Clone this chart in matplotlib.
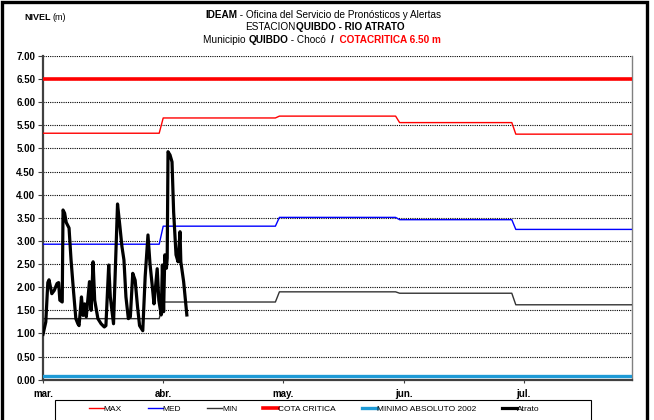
import matplotlib
matplotlib.use('Agg')
import matplotlib.pyplot as plt
from matplotlib.patches import Rectangle
from matplotlib.lines import Line2D
from matplotlib import font_manager

# ---------------- data ----------------
month_labels = ['mar.', 'abr.', 'may.', 'jun.', 'jul.']
tick_days = [0, 30, 60, 90, 120]
month_start = [0, 30, 59, 89, 118]
axis_end = 147

max_vals = [5.33, 5.66, 5.70, 5.56, 5.31]
med_vals = [2.93, 3.32, 3.51, 3.46, 3.25]
min_vals = [1.32, 1.68, 1.90, 1.87, 1.62]
cota_critica = 6.50
minimo_2002 = 0.08

atrato_day = [0.0, 0.7, 1.2, 1.5, 2.2, 2.8, 3.5, 3.9, 4.2, 4.8, 5.0, 5.4, 5.8, 6.5,
              7.0, 7.6, 8.2, 8.7, 9.0, 9.6, 10.0, 10.4, 10.8, 11.6, 12.0, 12.5,
              12.9, 13.7, 14.5, 15.3, 15.7, 16.4, 16.8, 17.6, 18.6, 19.2, 19.7,
              20.2, 20.7, 21.3, 21.8, 22.4, 23.0, 23.6, 24.1, 24.9, 25.5, 26.2,
              26.7, 27.3, 27.7, 28.5, 28.9, 29.5, 29.8, 30.1, 30.4, 30.8, 31.0,
              31.2, 31.7, 32.2, 32.6, 33.2, 33.7, 34.2, 34.4, 35.1, 35.9]
atrato_level = [0.98, 1.25, 2.10, 2.16, 1.86, 1.93, 2.08, 2.10, 1.72, 1.68, 3.67,
                3.60, 3.40, 3.28, 2.59, 1.93, 1.32, 1.21, 1.17, 1.79, 1.39, 1.64,
                1.36, 2.12, 1.50, 2.55, 1.72, 1.32, 1.21, 1.14, 1.17, 2.48, 1.79,
                1.21, 3.80, 3.31, 2.88, 2.59, 1.79, 1.32, 1.36, 2.30, 2.15, 1.57,
                1.17, 1.06, 2.23, 3.13, 2.51, 2.00, 1.64, 2.40, 1.72, 1.40, 2.48,
                1.47, 2.70, 2.41, 2.63, 4.93, 4.86, 4.71, 3.63, 2.70, 2.55, 3.20,
                2.55, 2.12, 1.40]

legend_labels = ['MAX', 'MED', 'MIN', 'COTA CRITICA', 'MINIMO ABSOLUTO 2002', 'Atrato']

# ---------------- fonts ----------------
fam = 'Liberation Sans'
try:
    font_manager.findfont(font_manager.FontProperties(family='Liberation Sans Narrow'),
                          fallback_to_default=False)
    fam = 'Liberation Sans Narrow'
except Exception:
    pass
plt.rcParams['font.family'] = [fam, 'DejaVu Sans']

W, H = 654, 420
fig = plt.figure(figsize=(W / 100, H / 100), dpi=100)

def fx(px):
    return px / W

def fy(py):
    return 1 - py / H

y0, y7 = 379.7, 56.0
xl, xr = 43.0, 632.0
ax = fig.add_axes([fx(xl), fy(y0), fx(xr - xl), (y0 - y7) / H])


def step_series(vals):
    xs, ys = [], []
    ends = month_start[1:] + [axis_end + 1]
    for s, e, v in zip(month_start, ends, vals):
        xs += [s, e - 1]
        ys += [v, v]
    return xs, ys

mx, my = step_series(max_vals)
ax.plot(mx, my, color='#ff0000', lw=1.0, zorder=3)
mx, my = step_series(med_vals)
ax.plot(mx, my, color='#0000ff', lw=1.0, zorder=3)
mx, my = step_series(min_vals)
ax.plot(mx, my, color='#333333', lw=1.0, zorder=3)
ax.axhline(cota_critica, color='#ff0000', lw=2.6, zorder=3)
ax.axhline(minimo_2002, color='#1e9bd7', lw=2.4, zorder=3)
ax.plot(atrato_day, atrato_level, color='black', lw=2.3, zorder=4,
        solid_joinstyle='round')

ax.set_xlim(0, axis_end)
ax.set_ylim(0, 7)
yt = [i * 0.5 for i in range(15)]
ax.set_yticks(yt)
ax.set_yticklabels(['%.2f' % v for v in yt], fontsize=7, fontweight='bold')
ax.set_xticks(tick_days)
ax.set_xticklabels(month_labels, fontsize=7, fontweight='bold')
ax.tick_params(axis='y', direction='out', length=3.5, width=0.8, pad=2, color='#404040')
ax.tick_params(axis='x', direction='out', length=2, width=0.8, pad=5, color='#404040')
ax.yaxis.grid(True, linestyle=(0, (1, 1)), color='black', lw=0.8)
ax.set_axisbelow(True)
ax.spines['top'].set_visible(False)
ax.spines['left'].set_color('#404040')
ax.spines['left'].set_linewidth(1.6)
ax.spines['bottom'].set_color('#404040')
ax.spines['bottom'].set_linewidth(1.6)
ax.spines['right'].set_color('#808080')
ax.spines['right'].set_linewidth(1.0)

# outer frame
fig.patches.append(Rectangle((fx(2), fy(440)), fx(645), (440 - 2.5) / H,
                             transform=fig.transFigure, fill=False,
                             edgecolor='black', lw=2.4))
# legend frame
fig.patches.append(Rectangle((fx(55), fy(440)), fx(591 - 55), (440 - 400) / H,
                             transform=fig.transFigure, fill=False,
                             edgecolor='black', lw=0.8))

handles = [Line2D([], [], color='#ff0000', lw=1.0),
           Line2D([], [], color='#0000ff', lw=1.0),
           Line2D([], [], color='#333333', lw=1.0),
           Line2D([], [], color='#ff0000', lw=2.6),
           Line2D([], [], color='#1e9bd7', lw=2.4),
           Line2D([], [], color='black', lw=2.3)]
fig.legend(handles, legend_labels, ncol=6, loc='center',
           bbox_to_anchor=(fx(314), fy(409.5)), frameon=False, fontsize=6,
           handlelength=1.8, handletextpad=0.0, columnspacing=3.1,
           borderpad=0, borderaxespad=0)

# rich title lines
renderer = fig.canvas.get_renderer()

def rich_line(cx, cy, pieces, size=7.2):
    texts = []
    for s, w, c in pieces:
        t = fig.text(0, fy(cy), s, fontsize=size, fontweight=w, color=c,
                     ha='left', va='center')
        texts.append(t)
    widths = [t.get_window_extent(renderer).width for t in texts]
    total = sum(widths)
    x = cx - total / 2
    for t, wd in zip(texts, widths):
        t.set_x(fx(x))
        x += wd

rich_line(323, 15, [('IDEAM', 'bold', 'black'),
                    (' - Oficina del Servicio de Pronósticos y Alertas', 'normal', 'black')])
rich_line(325, 27.5, [('ESTACION', 'normal', 'black'),
                      ('QUIBDO - RIO ATRATO', 'bold', 'black')])
rich_line(322, 40, [('Municipio ', 'normal', 'black'),
                    ('QUIBDO', 'bold', 'black'),
                    (' - Chocó  ', 'normal', 'black'),
                    ('/', 'bold', 'black'),
                    ('  COTACRITICA 6.50 m', 'bold', '#ff0000')])
t1 = fig.text(fx(24), fy(18), 'NIVEL', fontsize=6.5, fontweight='bold', ha='left', va='center')
w1 = t1.get_window_extent(renderer).width
fig.text(fx(24 + w1 + 2), fy(18), '(m)', fontsize=6.5, ha='left', va='center')

fig.savefig('out.png', dpi=100)
